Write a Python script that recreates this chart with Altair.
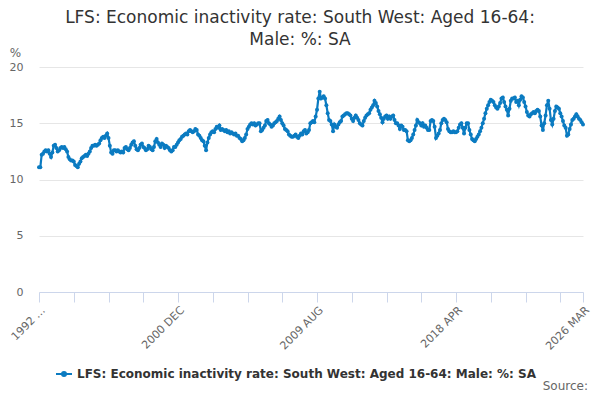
import altair as alt
import pandas as pd

title_lines = ["LFS: Economic inactivity rate: South West: Aged 16-64:", "Male: %: SA"]
series_name = "LFS: Economic inactivity rate: South West: Aged 16-64: Male: %: SA"
source_text = "Source:"
month_names = ["JAN", "FEB", "MAR", "APR", "MAY", "JUN", "JUL", "AUG", "SEP", "OCT", "NOV", "DEC"]
start_year, start_month = 1992, 4

values = [
    11.1, 11.1, 12.2, 12.3, 12.5, 12.6, 12.5, 12.6, 12.3, 12.0,
    12.4, 13.0, 13.1, 12.8, 12.5, 12.6, 12.8, 12.9, 12.8, 12.9,
    12.7, 12.5, 12.0, 11.8, 11.7, 11.7, 11.6, 11.3, 11.2, 11.1,
    11.4, 11.6, 11.9, 12.0, 12.1, 12.2, 12.1, 12.3, 12.5, 12.8,
    13.0, 13.0, 13.1, 13.0, 13.1, 13.2, 13.5, 13.7, 13.8, 13.7,
    13.9, 14.1, 13.7, 13.0, 12.4, 12.3, 12.6, 12.6, 12.5, 12.6,
    12.5, 12.4, 12.5, 12.4, 12.8, 12.9, 12.7, 12.6, 12.8, 13.1,
    13.3, 13.4, 13.0, 12.7, 12.6, 12.8, 13.1, 13.2, 12.9, 12.8,
    12.6, 12.7, 13.0, 12.9, 12.7, 12.6, 12.9, 13.4, 13.6, 13.3,
    13.1, 12.9, 13.2, 13.1, 12.8, 13.0, 12.9, 12.8, 12.6, 12.5,
    12.6, 12.9, 12.9, 13.1, 13.3, 13.5, 13.6, 13.8, 13.9, 14.0,
    14.1, 14.0, 14.3, 14.4, 14.3, 14.2, 14.3, 14.5, 14.4, 14.0,
    13.9, 13.7, 13.5, 13.4, 13.0, 12.6, 13.3, 13.7, 14.0, 14.2,
    14.3, 14.2, 14.5, 14.7, 14.6, 14.8, 14.4, 14.5, 14.4, 14.3,
    14.4, 14.2, 14.3, 14.1, 14.2, 14.1, 14.0, 14.1, 13.9, 13.9,
    13.7, 13.6, 13.4, 13.5, 13.7, 14.0, 14.5, 14.7, 14.9, 15.0,
    14.9, 15.0, 14.8, 14.9, 15.0, 15.0, 14.3, 14.4, 14.6, 14.8,
    15.2, 15.3, 15.0, 14.9, 14.7, 14.8, 15.0, 15.1, 15.2, 15.4,
    15.6, 15.3, 15.0, 14.8, 14.5, 14.4, 14.3, 14.0, 13.9, 13.8,
    13.8, 13.9, 14.0, 13.8, 13.7, 13.9, 14.1, 14.0, 14.3, 14.4,
    14.1, 14.2, 14.4, 15.0, 15.1, 15.2, 15.1, 15.6, 16.2, 17.2,
    17.8, 17.2, 17.3, 17.4, 17.2, 16.6, 15.9, 15.3, 15.2, 14.9,
    14.3, 14.9, 14.7, 14.6, 14.9, 15.1, 15.2, 15.6, 15.7, 15.8,
    15.9, 15.9, 15.8, 15.7, 15.4, 15.2, 15.5, 15.7, 15.5, 15.3,
    15.0, 14.9, 14.8, 15.2, 15.5, 15.7, 15.8, 15.9, 16.2, 16.4,
    16.6, 17.0, 16.8, 16.5, 16.1, 15.8, 15.5, 15.1, 15.4, 15.6,
    15.7, 15.4, 15.6, 15.4, 15.6, 15.7, 15.3, 15.0, 15.0, 14.8,
    14.5, 14.8, 14.7, 14.4, 14.4, 14.3, 13.5, 13.4, 13.5, 13.7,
    14.0, 14.4, 14.8, 15.3, 15.1, 15.0, 14.8, 15.0, 14.7, 14.8,
    14.6, 14.4, 14.4, 15.2, 15.3, 15.2, 14.7, 13.7, 13.9, 14.1,
    14.4, 15.0, 15.3, 15.4, 15.3, 15.1, 14.5, 14.3, 14.2, 14.2,
    14.3, 14.2, 14.2, 14.3, 14.6, 14.9, 15.0, 14.6, 14.1, 14.6,
    15.0, 15.0, 14.4, 14.0, 13.6, 13.5, 13.4, 13.6, 13.8, 14.0,
    14.3, 14.6, 15.0, 15.4, 15.9, 16.3, 16.6, 16.9, 17.1, 17.0,
    16.9, 16.6, 16.4, 16.3, 16.5, 16.8, 17.2, 17.3, 16.9, 16.5,
    16.2, 15.7, 16.3, 17.0, 17.2, 17.2, 17.3, 16.9, 17.0, 16.6,
    17.1, 17.4, 17.3, 16.9, 16.5, 16.0, 15.7, 15.6, 15.8, 15.9,
    16.0, 15.9, 16.1, 16.2, 16.1, 15.6, 14.8, 14.4, 15.0, 15.7,
    16.6, 17.0, 16.3, 15.3, 14.9, 15.4, 16.1, 16.5, 16.4, 16.3,
    15.9, 15.6, 15.2, 14.8, 14.6, 13.9, 14.0, 14.5, 14.9, 15.3,
    15.4, 15.6, 15.8, 15.6, 15.4, 15.3, 15.1, 14.9,
]

# tick marks every 26 months, labels every 104 months, plus the final month
tick_index = [0, 26, 52, 78, 104, 130, 156, 182, 208, 234, 260, 286, 312, 338, 364, 390, 407]
label_index = [0, 104, 208, 312, 407]
label_text = ["1992 \u2026", "2000 DEC", "2009 AUG", "2018 APR", "2026 MAR"]

periods = []
for i in range(len(values)):
    m = start_month - 1 + i
    periods.append(f"{start_year + m // 12} {month_names[m % 12]}")

df = pd.DataFrame({"idx": list(range(len(values))), "period": periods,
                   "value": values, "series": series_name})

label_expr = "''"
for k, t in zip(reversed(label_index), reversed(label_text)):
    label_expr = f"datum.value == {k} ? '{t}' : ({label_expr})"

color = "#0b7bc1"
font = "DejaVu Sans"

line = alt.Chart(df).mark_line(
    strokeWidth=2.2,
    point=alt.OverlayMarkDef(filled=True, size=16, opacity=1),
).encode(
    x=alt.X("idx:Q",
            scale=alt.Scale(domain=[0, len(values) - 1], nice=False, zero=False),
            axis=alt.Axis(values=tick_index, labelExpr=label_expr, labelAngle=-45,
                          labelAlign="right", labelBaseline="top",
                          grid=False, domainColor="#ccd6eb", tickColor="#ccd6eb",
                          tickSize=10, labelColor="#666666", labelFontSize=11,
                          labelFont=font, labelPadding=2, title=None,
                          labelOverlap=False, labelBound=False)),
    y=alt.Y("value:Q",
            scale=alt.Scale(domain=[0, 20], nice=False),
            axis=alt.Axis(values=[0, 5, 10, 15, 20], title="%", titleAngle=0,
                          titleX=-24, titleY=-15, titleAlign="center",
                          titleBaseline="middle", titleFontWeight="normal",
                          titleFontSize=12, titleColor="#666666", titleFont=font,
                          domain=False, ticks=False, labelPadding=16,
                          labelColor="#666666", labelFontSize=11, labelFont=font,
                          gridColor="#e6e6e6")),
    color=alt.Color("series:N",
                    scale=alt.Scale(domain=[series_name], range=[color]),
                    legend=alt.Legend(title=None, orient="none", legendX=16, legendY=298,
                                      labelFont=font, labelFontSize=12,
                                      labelFontWeight="bold", labelColor="#333333",
                                      labelLimit=0,
                                      symbolType="M-1,0L1,0M-0.25,0A0.25,0.25,0,1,1,0.25,0A0.25,0.25,0,1,1,-0.25,0Z",
                                      symbolSize=256, symbolStrokeWidth=2,
                                      symbolFillColor=color, symbolStrokeColor=color)),
)

title_df = pd.DataFrame({"t": title_lines, "line": [0, 1]})
title = alt.Chart(title_df).mark_text(
    align="center", baseline="middle", font=font, fontSize=17, color="#333333"
).encode(
    x=alt.value(261),
    y=alt.Y("line:Q", scale=alt.Scale(domain=[0, 1], range=[-49, -27]), axis=None),
    text="t:N",
)

source = alt.Chart(pd.DataFrame({"t": [source_text]})).mark_text(
    align="right", baseline="alphabetic", font=font, fontSize=12, color="#666666"
).encode(x=alt.value(549), y=alt.value(323), text="t:N")

chart = alt.layer(line, title, source).resolve_scale(y="independent").properties(
    width=544, height=225,
    autosize="none",
    padding={"left": 31, "top": 59, "right": 9, "bottom": 100},
).configure_view(stroke=None)

chart.save("out.html", embed_options={"renderer": "svg", "actions": False})
